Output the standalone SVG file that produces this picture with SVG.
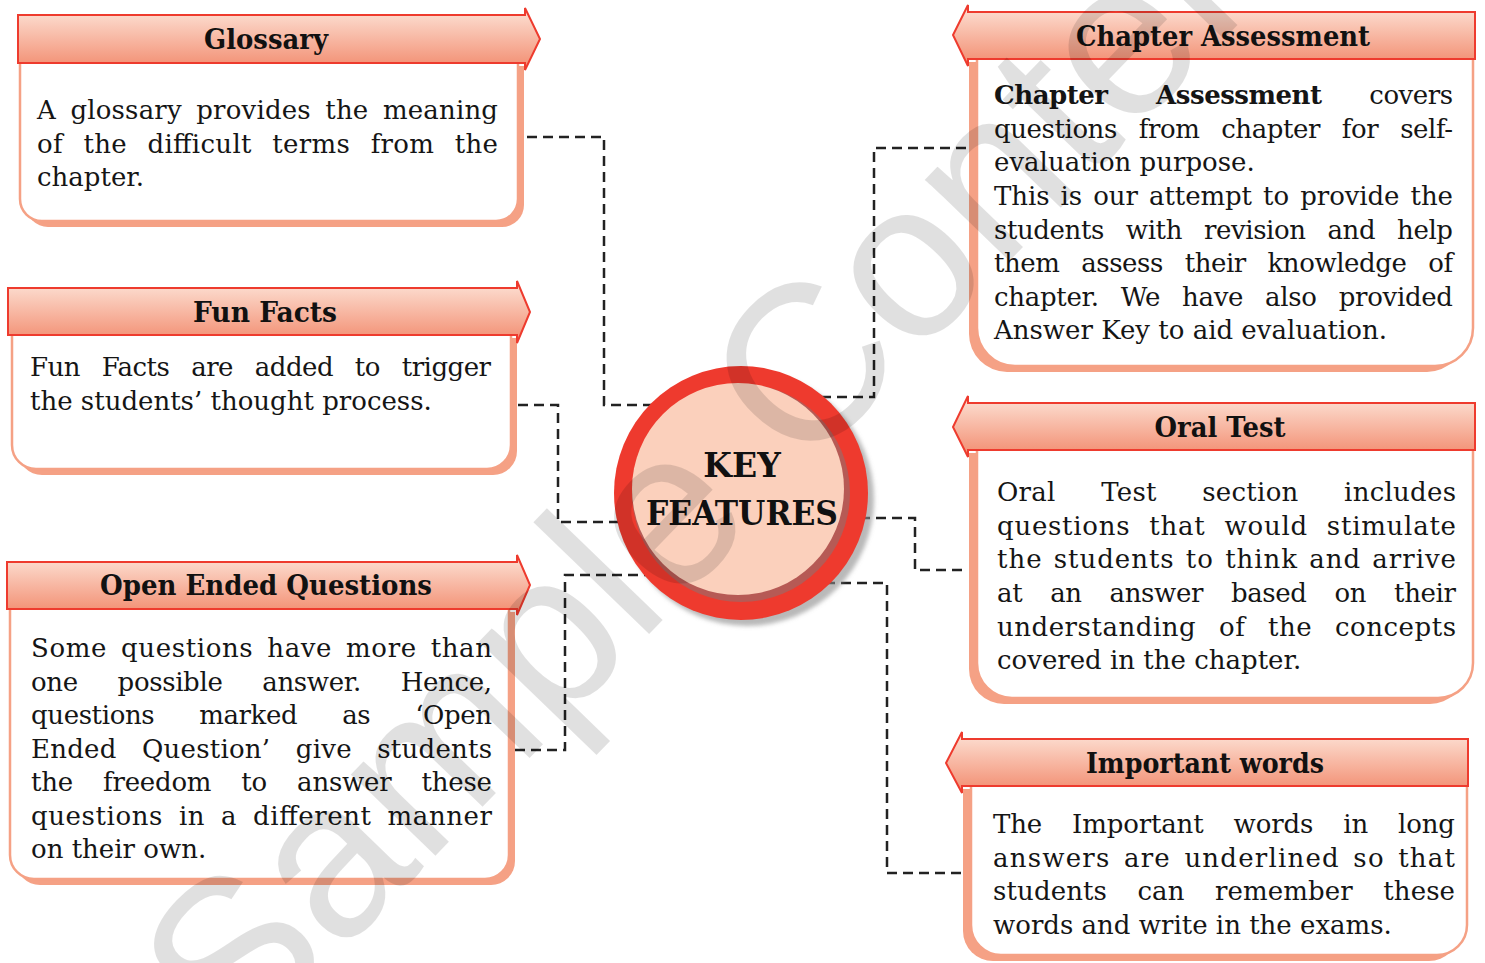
<svg xmlns="http://www.w3.org/2000/svg" width="1485" height="963" viewBox="0 0 1485 963">
<defs>
<linearGradient id="bg" x1="0" y1="0" x2="0" y2="1">
<stop offset="0" stop-color="#FDE3D7"/>
<stop offset="1" stop-color="#F28B6E"/>
</linearGradient>
<filter id="blur" x="-20%" y="-20%" width="140%" height="140%"><feGaussianBlur stdDeviation="2"/></filter>
<style>
.t{font-family:"DejaVu Serif","Liberation Serif",serif;font-size:26px;fill:#151515}
.h{font-family:"DejaVu Serif","Liberation Serif",serif;font-weight:bold;font-size:27px;fill:#111;text-anchor:middle}
.body{fill:#fff;stroke:#F5A185;stroke-width:2.5}
.shadow{fill:#F5A185}
.banner{fill:url(#bg);stroke:#EE3B2E;stroke-width:2}
.conn{fill:none;stroke:#222;stroke-width:2.5;stroke-dasharray:10 6}
.k{font-family:"DejaVu Serif","Liberation Serif",serif;font-weight:bold;font-size:33px;fill:#111;text-anchor:middle}
</style>
</defs>
<rect width="1485" height="963" fill="#fff"/>

<g id="connectors">
<path class="conn" d="M527,137 H604 V405 H660"/>
<path class="conn" d="M966,148 H874 V397 H815"/>
<path class="conn" d="M518,405 H558 V522 H625"/>
<path class="conn" d="M860,518 H915 V570 H968"/>
<path class="conn" d="M515,750 H565 V575 H655"/>
<path class="conn" d="M825,583 H887 V873 H966"/>
</g>

<g id="glossary">
<path class="shadow" transform="translate(6,6)" d="M20,60 H518 V199 A22,22 0 0 1 496,221 H42 A22,22 0 0 1 20,199 Z"/>
<path class="body" d="M20,60 H518 V199 A22,22 0 0 1 496,221 H42 A22,22 0 0 1 20,199 Z"/>
<polygon class="banner" points="18,15 525,15 525,8 540,39 525,70 525,63 18,63"/>
<text class="h" x="266" y="49" textLength="124" lengthAdjust="spacingAndGlyphs">Glossary</text>
<text class="t" x="37" y="119" word-spacing="6" textLength="461" lengthAdjust="spacing">A glossary provides the meaning</text>
<text class="t" x="37" y="153" word-spacing="12" textLength="461" lengthAdjust="spacing">of the difficult terms from the</text>
<text class="t" x="37" y="186">chapter.</text>
</g>

<g id="fun-facts">
<path class="shadow" transform="translate(6,6)" d="M12,332 H511 V445 A24,24 0 0 1 487,469 H36 A24,24 0 0 1 12,445 Z"/>
<path class="body" d="M12,332 H511 V445 A24,24 0 0 1 487,469 H36 A24,24 0 0 1 12,445 Z"/>
<polygon class="banner" points="8,288 517,288 517,281 530,312 517,343 517,335 8,335"/>
<text class="h" x="265" y="322" textLength="144" lengthAdjust="spacingAndGlyphs">Fun Facts</text>
<text class="t" x="30" y="376" word-spacing="14" textLength="461" lengthAdjust="spacing">Fun Facts are added to trigger</text>
<text class="t" x="30" y="410">the students’ thought process.</text>
</g>

<g id="open-ended-questions">
<path class="shadow" transform="translate(6,6)" d="M10,606 H509 V855 A24,24 0 0 1 485,879 H34 A24,24 0 0 1 10,855 Z"/>
<path class="body" d="M10,606 H509 V855 A24,24 0 0 1 485,879 H34 A24,24 0 0 1 10,855 Z"/>
<polygon class="banner" points="7,562 517,562 517,555 530,585 517,615 517,609 7,609"/>
<text class="h" x="266" y="595" textLength="332" lengthAdjust="spacingAndGlyphs">Open Ended Questions</text>
<text class="t" x="31" y="657" word-spacing="5" textLength="461" lengthAdjust="spacing">Some questions have more than</text>
<text class="t" x="31" y="691" word-spacing="32" textLength="461" lengthAdjust="spacing">one possible answer. Hence,</text>
<text class="t" x="31" y="724" word-spacing="37" textLength="461" lengthAdjust="spacing">questions marked as ‘Open</text>
<text class="t" x="31" y="758" word-spacing="17" textLength="461" lengthAdjust="spacing">Ended Question’ give students</text>
<text class="t" x="31" y="791" word-spacing="22" textLength="461" lengthAdjust="spacing">the freedom to answer these</text>
<text class="t" x="31" y="825" word-spacing="7" textLength="461" lengthAdjust="spacing">questions in a different manner</text>
<text class="t" x="31" y="858">on their own.</text>
</g>

<g id="chapter-assessment">
<path class="shadow" transform="translate(-8,6)" d="M977,56 H1473 V328 A38,38 0 0 1 1435,366 H1015 A38,38 0 0 1 977,328 Z"/>
<path class="body" d="M977,56 H1473 V328 A38,38 0 0 1 1435,366 H1015 A38,38 0 0 1 977,328 Z"/>
<polygon class="banner" points="1475,12 968,12 968,5 953,35 968,66 968,59 1475,59"/>
<text class="h" x="1223" y="46" textLength="294" lengthAdjust="spacingAndGlyphs">Chapter Assessment</text>
<text class="t" x="994" y="104" word-spacing="40" textLength="459" lengthAdjust="spacing"><tspan font-weight="bold">Chapter Assessment</tspan> covers</text>
<text class="t" x="994" y="138" word-spacing="14" textLength="459" lengthAdjust="spacing">questions from chapter for self-</text>
<text class="t" x="994" y="171">evaluation purpose.</text>
<text class="t" x="994" y="205" word-spacing="3" textLength="459" lengthAdjust="spacing">This is our attempt to provide the</text>
<text class="t" x="994" y="239" word-spacing="14" textLength="459" lengthAdjust="spacing">students with revision and help</text>
<text class="t" x="994" y="272" word-spacing="14" textLength="459" lengthAdjust="spacing">them assess their knowledge of</text>
<text class="t" x="994" y="306" word-spacing="14" textLength="459" lengthAdjust="spacing">chapter. We have also provided</text>
<text class="t" x="994" y="339">Answer Key to aid evaluation.</text>
</g>

<g id="oral-test">
<path class="shadow" transform="translate(-8,6)" d="M977,447 H1473 V663 A35,35 0 0 1 1438,698 H1012 A35,35 0 0 1 977,663 Z"/>
<path class="body" d="M977,447 H1473 V663 A35,35 0 0 1 1438,698 H1012 A35,35 0 0 1 977,663 Z"/>
<polygon class="banner" points="1475,403 968,403 968,396 953,427 968,457 968,450 1475,450"/>
<text class="h" x="1220" y="437" textLength="131" lengthAdjust="spacingAndGlyphs">Oral Test</text>
<text class="t" x="997" y="501" word-spacing="37" textLength="459" lengthAdjust="spacing">Oral Test section includes</text>
<text class="t" x="997" y="535" word-spacing="10" textLength="459" lengthAdjust="spacing">questions that would stimulate</text>
<text class="t" x="997" y="568" word-spacing="2" textLength="459" lengthAdjust="spacing">the students to think and arrive</text>
<text class="t" x="997" y="602" word-spacing="20" textLength="459" lengthAdjust="spacing">at an answer based on their</text>
<text class="t" x="997" y="636" word-spacing="14" textLength="459" lengthAdjust="spacing">understanding of the concepts</text>
<text class="t" x="997" y="669">covered in the chapter.</text>
</g>

<g id="important-words">
<path class="shadow" transform="translate(-8,6)" d="M971,783 H1467 V925 A30,30 0 0 1 1437,955 H1001 A30,30 0 0 1 971,925 Z"/>
<path class="body" d="M971,783 H1467 V925 A30,30 0 0 1 1437,955 H1001 A30,30 0 0 1 971,925 Z"/>
<polygon class="banner" points="1468,739 962,739 962,732 946,763 962,793 962,786 1468,786"/>
<text class="h" x="1205" y="773" textLength="238" lengthAdjust="spacingAndGlyphs">Important words</text>
<text class="t" x="993" y="833" word-spacing="22" textLength="462" lengthAdjust="spacing">The Important words in long</text>
<text class="t" x="993" y="867" word-spacing="4" textLength="462" lengthAdjust="spacing">answers are underlined so that</text>
<text class="t" x="993" y="900" word-spacing="22" textLength="462" lengthAdjust="spacing">students can remember these</text>
<text class="t" x="993" y="934">words and write in the exams.</text>
</g>

<g id="key-features">
<circle cx="747" cy="499" r="127" fill="#8a8a8a" fill-opacity="0.6" filter="url(#blur)"/>
<circle cx="741" cy="493" r="127" fill="#EE3A2E"/>
<circle cx="741" cy="493" r="109" fill="#B65A55"/>
<circle cx="738" cy="489" r="106" fill="#FBD0BC"/>
<text class="k" x="742" y="477">KEY</text>
<text class="k" x="742" y="525" textLength="192" lengthAdjust="spacingAndGlyphs">FEATURES</text>
</g>

<text x="236" y="1062" transform="rotate(-46 236 1062)" font-family="Liberation Sans, Arial, sans-serif" font-size="222" fill="#000" fill-opacity="0.12">Sample Content</text>
</svg>
